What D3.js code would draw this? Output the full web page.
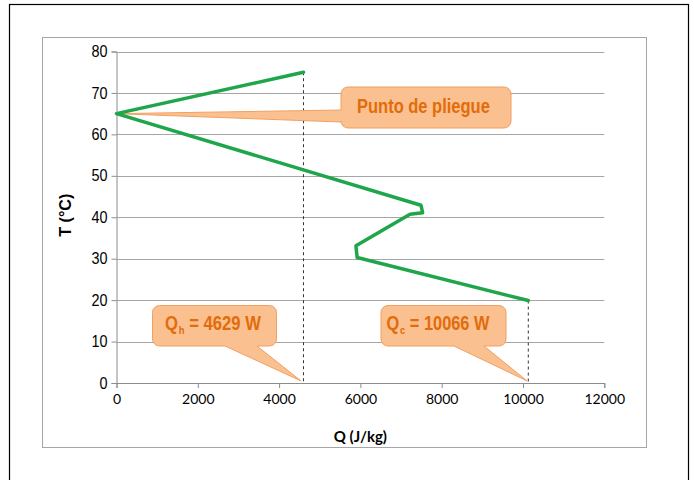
<!DOCTYPE html>
<html><head><meta charset="utf-8">
<script src="https://cdn.jsdelivr.net/npm/d3@7"></script>
<style>body{margin:0;background:#fff}svg{display:block}</style>
</head><body>
<svg id="c" width="694" height="480"></svg>
<script>
// ---- data ----
const curveQ = [4600, 0, 7490, 7530, 7220, 5890, 5920, 10130];
const curveT = [75, 65, 42.9, 41.1, 40.7, 33.1, 30.3, 19.9];
const xTicks = [0, 2000, 4000, 6000, 8000, 10000, 12000];
const yTicks = [0, 10, 20, 30, 40, 50, 60, 70, 80];
const dropQ = [4600, 10130];
const dropT = [75, 19.9];
const calloutMain = ["Punto de pliegue", "Q", "Q"];
const calloutSub = ["", "h", "c"];
const calloutRest = ["", " = 4629 W", " = 10066 W"];
const calloutTipQ = [0, 4540, 10100];
const calloutTipT = [65, 0.5, 0.5];

const svg = d3.select("#c");
const x = d3.scaleLinear().domain([0, 12000]).range([116.5, 604.3]);
const y = d3.scaleLinear().domain([0, 80]).range([383, 51.5]);
const narrow = "'Liberation Sans', Arial, sans-serif";

// frames
svg.append("rect").attr("x", 9.5).attr("y", 4.5).attr("width", 679).attr("height", 500)
  .attr("fill", "none").attr("stroke", "#000").attr("stroke-width", 1.2);
svg.append("rect").attr("x", 42.5).attr("y", 37.5).attr("width", 604).attr("height", 410)
  .attr("fill", "#fff").attr("stroke", "#a6a6a6").attr("stroke-width", 1);

// grid
svg.append("g").selectAll("line").data(yTicks.filter(d => d > 0)).join("line")
  .attr("x1", x(0)).attr("x2", x(12000)).attr("y1", d => Math.round(y(d)) + 0.5).attr("y2", d => Math.round(y(d)) + 0.5)
  .attr("stroke", "#a6a6a6").attr("stroke-width", 1);

// axes
const yAxis = svg.append("g").attr("transform", `translate(${x(0)},0)`)
  .call(d3.axisLeft(y).tickValues(yTicks).tickSize(5).tickPadding(4).tickFormat(d3.format("d")));
const xAxis = svg.append("g").attr("transform", `translate(0,${y(0)})`)
  .call(d3.axisBottom(x).tickValues(xTicks).tickSize(5).tickPadding(6).tickFormat(d3.format("d")));
[yAxis, xAxis].forEach(g => {
  g.select(".domain").attr("stroke", "#8c8c8c");
  g.selectAll(".tick line").attr("stroke", "#8c8c8c");
});
yAxis.selectAll("text").attr("font-family", narrow)
  .attr("font-size", 16).attr("fill", "#000")
  .attr("textLength", d => String(d).length * 8).attr("lengthAdjust", "spacingAndGlyphs");
xAxis.selectAll("text").attr("font-family", "Lato, 'Open Sans', sans-serif")
  .attr("font-size", 14).attr("fill", "#000");

// axis titles
svg.append("text").attr("transform", `translate(70.5,${(y(0) + y(80)) / 2 - 2}) rotate(-90)`)
  .attr("text-anchor", "middle").attr("font-family", narrow)
  .attr("font-weight", "bold").attr("font-size", 16)
  .attr("textLength", 43).attr("lengthAdjust", "spacingAndGlyphs").text("T (°C)");
svg.append("text").attr("x", (x(0) + x(12000)) / 2).attr("y", 442)
  .attr("text-anchor", "middle").attr("font-family", "Lato, 'Open Sans', sans-serif")
  .attr("font-weight", "bold").attr("font-size", 15).text("Q (J/kg)");

// dashed drop lines
svg.append("g").selectAll("line").data(dropQ).join("line")
  .attr("x1", d => x(d)).attr("x2", d => x(d))
  .attr("y1", (d, i) => y(dropT[i])).attr("y2", y(0))
  .attr("stroke", "#333").attr("stroke-width", 1).attr("stroke-dasharray", "3,3");

// callouts
const fillC = "#FAC090", strokeC = "#F0A062", textC = "#E36C0A";
function calloutPath(bx, by, bw, bh, r, wedge, tip) {
  const p = d3.path();
  p.moveTo(bx + r, by);
  p.lineTo(bx + bw - r, by);
  p.arcTo(bx + bw, by, bx + bw, by + r, r);
  p.lineTo(bx + bw, by + bh - r);
  p.arcTo(bx + bw, by + bh, bx + bw - r, by + bh, r);
  if (wedge.side === "bottom") {
    p.lineTo(wedge.b, by + bh);
    p.lineTo(tip[0], tip[1]);
    p.lineTo(wedge.a, by + bh);
  }
  p.lineTo(bx + r, by + bh);
  p.arcTo(bx, by + bh, bx, by + bh - r, r);
  if (wedge.side === "left") {
    p.lineTo(bx, wedge.b);
    p.lineTo(tip[0], tip[1]);
    p.lineTo(bx, wedge.a);
  }
  p.lineTo(bx, by + r);
  p.arcTo(bx, by, bx + r, by, r);
  p.closePath();
  return p.toString();
}
const boxes = [
  {bx: 341, by: 87, bw: 170, bh: 41, wedge: {side: "left", a: 110, b: 122}, tl: 133, tx: 357, base: 113},
  {bx: 152.5, by: 305.5, bw: 124, bh: 40.5, wedge: {side: "bottom", a: 225, b: 257}, tl: 96, tx: 165, base: 330},
  {bx: 381, by: 305.5, bw: 125, bh: 40.5, wedge: {side: "bottom", a: 454, b: 484}, tl: 103, tx: 386.5, base: 330}
];
const cg = svg.append("g");
function ctext(g, px, py, str, size) {
  const t = g.append("text").attr("x", px).attr("y", py)
    .attr("font-family", narrow).attr("font-weight", "bold").attr("font-size", size)
    .attr("fill", textC).text(str);
  return t.node().getComputedTextLength();
}
boxes.forEach((b, i) => {
  const tip = [x(calloutTipQ[i]), y(calloutTipT[i])];
  cg.append("path").attr("d", calloutPath(b.bx, b.by, b.bw, b.bh, 7, b.wedge, tip))
    .attr("fill", fillC).attr("stroke", strokeC).attr("stroke-width", 1);
  const g = cg.append("g");
  let total;
  if (!calloutSub[i]) {
    total = ctext(g, 0, 0, calloutMain[i], 19.5);
  } else {
    const w1 = ctext(g, 0, 0, calloutMain[i], 19.5);
    const w2 = ctext(g, w1 + 1, 4, calloutSub[i], 11);
    const start = w1 + 1 + w2 + 5.5;
    const w3 = ctext(g, start, 0, calloutRest[i].trim(), 19.5);
    total = start + w3;
  }
  g.attr("transform", `translate(${b.tx},${b.base}) scale(${b.tl / total},1)`);
});

// green curve
const pts = curveQ.map((q, i) => [q, curveT[i]]);
svg.append("path").datum(pts)
  .attr("d", d3.line().x(d => x(d[0])).y(d => y(d[1])))
  .attr("fill", "none").attr("stroke", "#1FA64A").attr("stroke-width", 3.5)
  .attr("stroke-linejoin", "round").attr("stroke-linecap", "round");
</script>
</body></html>
